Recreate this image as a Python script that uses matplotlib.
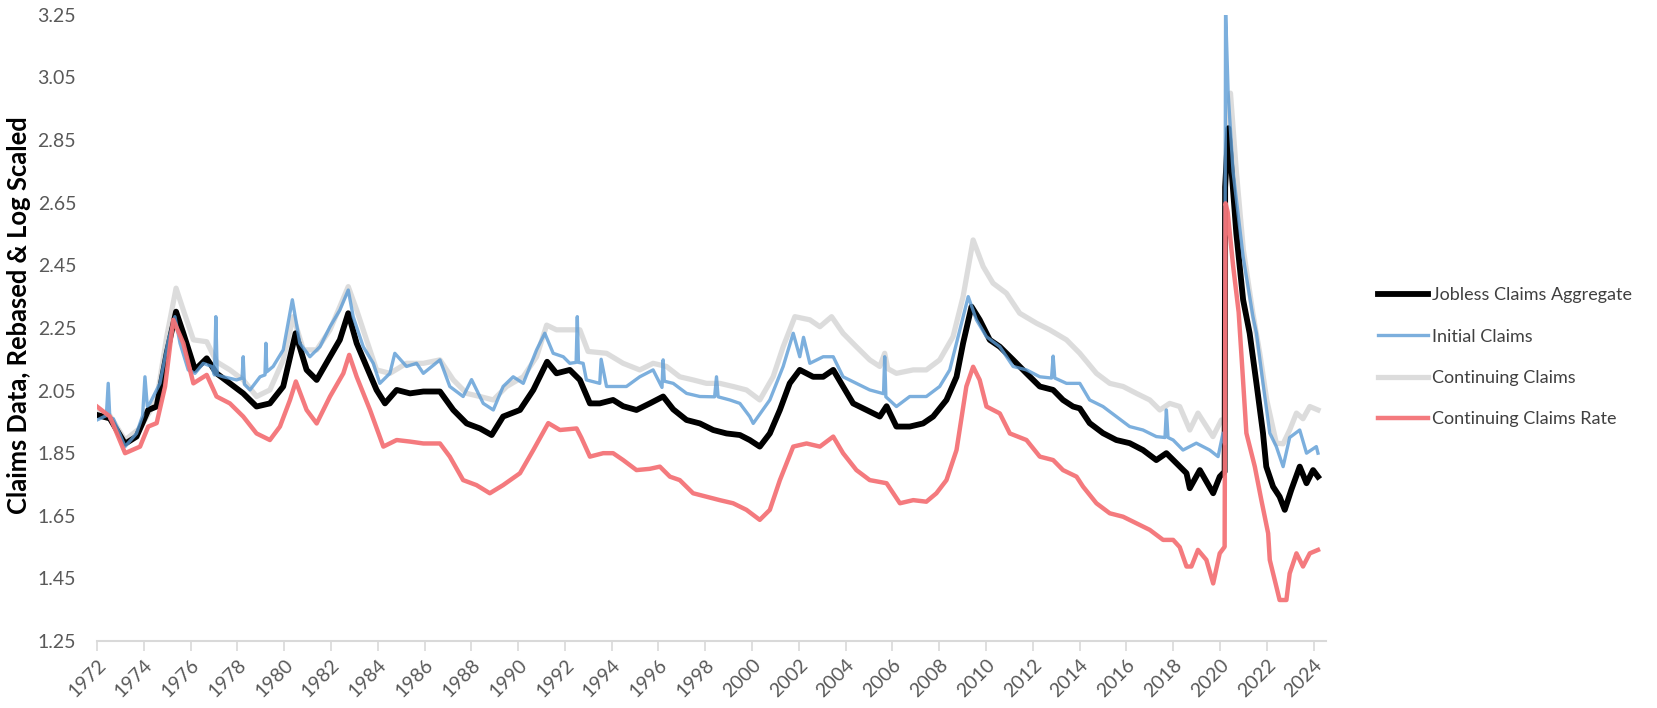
import numpy as np
import matplotlib
matplotlib.use("Agg")
import matplotlib.pyplot as plt

plt.rcParams['font.family'] = ['Lato', 'DejaVu Sans']

# values (decimal year, rebased log value)
agg_years = [1972.0, 1972.55, 1973.2, 1973.69, 1974.19, 1974.55, 1974.98, 1975.38, 1975.69, 1976.19,
             1976.69, 1977.11, 1977.68, 1978.25, 1978.82, 1979.39, 1979.96, 1980.49, 1980.96, 1981.39,
             1981.96, 1982.38, 1982.74, 1983.10, 1983.52, 1983.95, 1984.31, 1984.81, 1985.38, 1985.95,
             1986.66, 1987.23, 1987.80, 1988.37, 1988.87, 1989.36, 1990.08, 1990.65, 1991.24, 1991.64,
             1992.21, 1992.64, 1993.07, 1993.49, 1994.06, 1994.49, 1995.06, 1995.63, 1996.20, 1996.63,
             1997.20, 1997.77, 1998.34, 1998.91, 1999.48, 1999.90, 2000.33, 2000.76, 2001.19, 2001.61,
             2002.04, 2002.61, 2003.04, 2003.47, 2003.89, 2004.32, 2004.89, 2005.46, 2005.75, 2006.17,
             2006.74, 2007.31, 2007.74, 2008.31, 2008.74, 2009.02, 2009.38, 2009.73, 2010.16, 2010.59,
             2011.16, 2011.73, 2012.30, 2012.87, 2013.29, 2013.72, 2014.01, 2014.43, 2015.00, 2015.57,
             2016.14, 2016.71, 2017.28, 2017.71, 2018.14, 2018.57, 2018.71, 2019.14, 2019.71, 2019.99,
             2020.20, 2020.22, 2020.36, 2020.70, 2020.99, 2021.27, 2021.56, 2021.84, 2021.98, 2022.27,
             2022.55, 2022.77, 2023.05, 2023.41, 2023.70, 2023.98, 2024.19]
agg_vals = [1.972, 1.961, 1.880, 1.903, 1.988, 1.999, 2.169, 2.302, 2.233, 2.116,
            2.153, 2.105, 2.073, 2.041, 1.999, 2.009, 2.063, 2.233, 2.116, 2.084,
            2.158, 2.212, 2.297, 2.201, 2.127, 2.052, 2.009, 2.052, 2.041, 2.047,
            2.047, 1.988, 1.945, 1.929, 1.908, 1.967, 1.988, 2.052, 2.142, 2.105,
            2.116, 2.084, 2.009, 2.009, 2.020, 2.000, 1.988, 2.009, 2.031, 1.990,
            1.956, 1.945, 1.924, 1.913, 1.908, 1.892, 1.871, 1.913, 1.988, 2.073,
            2.116, 2.094, 2.094, 2.116, 2.063, 2.009, 1.988, 1.967, 2.000, 1.935,
            1.935, 1.945, 1.967, 2.020, 2.094, 2.201, 2.318, 2.276, 2.212, 2.190,
            2.148, 2.105, 2.063, 2.052, 2.020, 1.999, 1.993, 1.946, 1.914, 1.892,
            1.882, 1.860, 1.828, 1.850, 1.818, 1.786, 1.738, 1.796, 1.722, 1.775,
            1.791, 2.700, 2.888, 2.552, 2.340, 2.233, 2.073, 1.914, 1.807, 1.743,
            1.711, 1.669, 1.733, 1.807, 1.754, 1.796, 1.775]

init_years = [1972.0, 1972.40, 1972.48, 1972.55, 1972.70, 1973.20, 1973.69, 1973.95, 1974.05, 1974.15,
              1974.26, 1974.69, 1975.05, 1975.33, 1975.55, 1975.90, 1976.19, 1976.54, 1976.90, 1977.02,
              1977.08, 1977.14, 1977.40, 1977.97, 1978.20, 1978.25, 1978.30, 1978.54, 1978.97, 1979.18,
              1979.22, 1979.26, 1979.53, 1979.96, 1980.35, 1980.67, 1981.10, 1981.53, 1981.96, 1982.38,
              1982.74, 1982.95, 1983.38, 1983.81, 1984.09, 1984.52, 1984.73, 1985.23, 1985.66, 1985.95,
              1986.66, 1987.08, 1987.65, 1988.01, 1988.51, 1988.94, 1989.36, 1989.79, 1990.22, 1990.79,
              1991.14, 1991.50, 1991.93, 1992.21, 1992.48, 1992.53, 1992.58, 1992.78, 1992.92, 1993.49,
              1993.55, 1993.78, 1994.06, 1994.63, 1995.20, 1995.77, 1996.15, 1996.20, 1996.25, 1996.63,
              1997.20, 1997.77, 1998.40, 1998.48, 1998.55, 1999.05, 1999.48, 1999.90, 2000.05, 2000.76,
              2001.33, 2001.76, 2002.04, 2002.20, 2002.47, 2003.04, 2003.47, 2003.89, 2004.46, 2005.03,
              2005.62, 2005.67, 2005.72, 2006.17, 2006.74, 2007.45, 2008.02, 2008.45, 2008.88, 2009.24,
              2009.59, 2010.02, 2010.59, 2011.16, 2011.73, 2012.30, 2012.80, 2012.87, 2012.94, 2013.44,
              2014.01, 2014.43, 2015.00, 2015.57, 2016.14, 2016.71, 2017.28, 2017.65, 2017.71, 2017.78,
              2018.00, 2018.42, 2018.99, 2019.56, 2019.92, 2020.13, 2020.20, 2020.24, 2020.35, 2020.56,
              2020.99, 2021.41, 2021.56, 2021.84, 2022.13, 2022.41, 2022.70, 2022.98, 2023.41, 2023.70,
              2024.12, 2024.19]
init_vals = [1.956, 1.970, 2.073, 1.960, 1.960, 1.871, 1.913, 1.970, 2.094, 2.000,
             2.009, 2.073, 2.212, 2.286, 2.201, 2.116, 2.105, 2.137, 2.127, 2.100,
             2.286, 2.100, 2.094, 2.084, 2.090, 2.158, 2.070, 2.052, 2.094, 2.100,
             2.201, 2.110, 2.127, 2.180, 2.340, 2.201, 2.158, 2.190, 2.254, 2.307,
             2.371, 2.286, 2.190, 2.137, 2.073, 2.105, 2.169, 2.127, 2.137, 2.105,
             2.148, 2.063, 2.031, 2.085, 2.009, 1.988, 2.063, 2.094, 2.073, 2.180,
             2.233, 2.169, 2.158, 2.137, 2.140, 2.286, 2.140, 2.137, 2.084, 2.073,
             2.150, 2.063, 2.063, 2.063, 2.094, 2.116, 2.060, 2.148, 2.080, 2.073,
             2.041, 2.031, 2.030, 2.094, 2.030, 2.020, 2.009, 1.967, 1.945, 2.020,
             2.127, 2.233, 2.158, 2.220, 2.137, 2.158, 2.158, 2.094, 2.073, 2.052,
             2.040, 2.158, 2.030, 1.999, 2.031, 2.031, 2.063, 2.116, 2.244, 2.350,
             2.276, 2.222, 2.190, 2.127, 2.116, 2.094, 2.090, 2.160, 2.090, 2.073,
             2.073, 2.020, 1.999, 1.967, 1.935, 1.924, 1.903, 1.900, 1.988, 1.900,
             1.892, 1.860, 1.882, 1.860, 1.839, 1.914, 1.880, 3.270, 3.000, 2.750,
             2.478, 2.286, 2.233, 2.073, 1.914, 1.871, 1.807, 1.900, 1.924, 1.850,
             1.871, 1.850]

cont_years = [1972.0, 1972.55, 1973.20, 1973.84, 1974.55, 1974.98, 1975.38, 1975.69, 1976.12, 1976.69,
              1977.11, 1977.68, 1978.25, 1978.82, 1979.39, 1979.96, 1980.39, 1980.82, 1981.39, 1981.96,
              1982.38, 1982.74, 1983.10, 1983.52, 1983.95, 1984.52, 1985.23, 1985.95, 1986.66, 1987.23,
              1987.80, 1988.37, 1988.94, 1989.51, 1990.22, 1990.79, 1991.22, 1991.64, 1992.21, 1992.64,
              1992.99, 1993.78, 1994.49, 1995.20, 1995.77, 1996.34, 1996.91, 1997.48, 1998.05, 1998.62,
              1999.19, 1999.76, 2000.33, 2000.90, 2001.33, 2001.83, 2002.47, 2002.90, 2003.40, 2003.89,
              2004.46, 2005.03, 2005.46, 2005.67, 2005.80, 2006.17, 2006.89, 2007.45, 2008.02, 2008.59,
              2009.02, 2009.45, 2009.88, 2010.30, 2010.87, 2011.44, 2012.16, 2012.72, 2013.44, 2014.01,
              2014.72, 2015.29, 2015.86, 2016.43, 2017.00, 2017.43, 2017.85, 2018.28, 2018.71, 2019.06,
              2019.70, 2020.06, 2020.20, 2020.26, 2020.45, 2020.70, 2021.00, 2021.40, 2021.70, 2022.00,
              2022.41, 2022.70, 2022.98, 2023.27, 2023.55, 2023.84, 2024.19]
cont_vals = [1.980, 1.970, 1.892, 1.930, 2.020, 2.222, 2.377, 2.307, 2.212, 2.206,
             2.142, 2.116, 2.084, 2.031, 2.052, 2.148, 2.286, 2.180, 2.180, 2.244,
             2.318, 2.382, 2.307, 2.212, 2.116, 2.105, 2.137, 2.137, 2.148, 2.084,
             2.041, 2.031, 2.020, 2.063, 2.094, 2.158, 2.259, 2.244, 2.244, 2.244,
             2.175, 2.169, 2.137, 2.116, 2.137, 2.127, 2.094, 2.084, 2.073, 2.073,
             2.063, 2.052, 2.020, 2.094, 2.190, 2.286, 2.276, 2.254, 2.286, 2.233,
             2.190, 2.148, 2.127, 2.169, 2.120, 2.105, 2.116, 2.116, 2.148, 2.222,
             2.350, 2.531, 2.446, 2.393, 2.361, 2.297, 2.265, 2.244, 2.212, 2.169,
             2.105, 2.073, 2.063, 2.041, 2.020, 1.988, 2.009, 1.999, 1.924, 1.978,
             1.903, 1.956, 1.950, 2.800, 3.000, 2.750, 2.500, 2.300, 2.170, 2.020,
             1.882, 1.880, 1.924, 1.978, 1.960, 1.999, 1.988]

rate_years = [1972.0, 1972.55, 1973.20, 1973.84, 1974.19, 1974.55, 1974.91, 1975.26, 1975.69, 1976.12,
              1976.69, 1977.11, 1977.68, 1978.25, 1978.82, 1979.39, 1979.82, 1980.25, 1980.50, 1980.96,
              1981.39, 1981.96, 1982.53, 1982.78, 1983.10, 1983.67, 1984.24, 1984.81, 1985.38, 1985.95,
              1986.66, 1987.08, 1987.65, 1988.22, 1988.79, 1989.36, 1990.08, 1990.65, 1991.29, 1991.79,
              1992.50, 1992.70, 1993.07, 1993.64, 1994.06, 1994.49, 1995.06, 1995.63, 1996.06, 1996.49,
              1996.91, 1997.48, 1998.05, 1998.62, 1999.19, 1999.76, 2000.33, 2000.76, 2001.19, 2001.76,
              2002.33, 2002.90, 2003.47, 2003.89, 2004.46, 2005.03, 2005.75, 2006.32, 2006.89, 2007.45,
              2007.88, 2008.31, 2008.74, 2009.16, 2009.45, 2009.73, 2010.02, 2010.59, 2011.02, 2011.73,
              2012.30, 2012.87, 2013.29, 2013.87, 2014.15, 2014.72, 2015.29, 2015.86, 2016.43, 2017.00,
              2017.57, 2018.00, 2018.28, 2018.57, 2018.78, 2019.06, 2019.42, 2019.71, 2019.99, 2020.20,
              2020.24, 2020.33, 2020.56, 2020.80, 2020.95, 2021.13, 2021.49, 2021.77, 2022.06, 2022.13,
              2022.41, 2022.55, 2022.84, 2022.98, 2023.27, 2023.55, 2023.84, 2024.19]
rate_vals = [1.999, 1.967, 1.850, 1.871, 1.935, 1.946, 2.063, 2.276, 2.201, 2.073,
             2.100, 2.031, 2.009, 1.967, 1.913, 1.892, 1.935, 2.020, 2.079, 1.988,
             1.945, 2.031, 2.105, 2.164, 2.094, 1.988, 1.871, 1.892, 1.887, 1.881,
             1.881, 1.839, 1.764, 1.748, 1.722, 1.748, 1.786, 1.860, 1.946, 1.924,
             1.929, 1.900, 1.839, 1.850, 1.850, 1.828, 1.796, 1.800, 1.807, 1.775,
             1.764, 1.722, 1.711, 1.700, 1.690, 1.669, 1.637, 1.669, 1.764, 1.871,
             1.881, 1.871, 1.903, 1.850, 1.796, 1.764, 1.754, 1.690, 1.700, 1.695,
             1.722, 1.764, 1.860, 2.063, 2.126, 2.084, 1.999, 1.977, 1.913, 1.892,
             1.839, 1.828, 1.796, 1.775, 1.743, 1.690, 1.658, 1.647, 1.626, 1.605,
             1.573, 1.573, 1.550, 1.488, 1.488, 1.541, 1.509, 1.434, 1.530, 1.551,
             2.648, 2.620, 2.450, 2.300, 2.126, 1.914, 1.807, 1.700, 1.594, 1.509,
             1.424, 1.381, 1.381, 1.466, 1.530, 1.488, 1.530, 1.541]

year_ticks = list(range(1972, 2025, 2))
value_ticks = [1.25, 1.45, 1.65, 1.85, 2.05, 2.25, 2.45, 2.65, 2.85, 3.05, 3.25]

fig = plt.figure(figsize=(16.58, 7.08), dpi=100)
ax = fig.add_axes([0.0585, 0.0946, 0.7415, 0.8844])

ax.plot(agg_years, agg_vals, color='black', lw=4.2, label='Jobless Claims Aggregate', zorder=2)
ax.plot(init_years, init_vals, color='#5b9bd5', lw=2.4, alpha=0.8, label='Initial Claims', zorder=3)
ax.plot(cont_years, cont_vals, color='#d9d9d9', lw=3.8, alpha=0.9, label='Continuing Claims', zorder=1)
ax.plot(rate_years, rate_vals, color='#f47377', lw=3.2, alpha=0.95, label='Continuing Claims Rate', zorder=4)

ax.set_xlim(1972, 2024.55)
ax.set_ylim(1.25, 3.25)
ax.set_xticks(year_ticks)
ax.set_xticklabels([str(y) for y in year_ticks], rotation=45, ha='right', rotation_mode='anchor')
ax.set_yticks(value_ticks)
ax.set_yticklabels(['%.2f' % v for v in value_ticks])

for s in ['top', 'right', 'left']:
    ax.spines[s].set_visible(False)
ax.spines['bottom'].set_color('#d9d9d9')
ax.spines['bottom'].set_linewidth(1.5)
ax.tick_params(axis='x', colors='#d9d9d9', length=7, width=1.2, labelcolor='#595959',
               labelsize=14, pad=4)
ax.tick_params(axis='y', length=0, labelcolor='#595959', labelsize=14, pad=15)

ax.set_ylabel('Claims Data, Rebased & Log Scaled', fontsize=18.4, fontweight='bold',
              color='black')
ax.yaxis.set_label_coords(-0.054, 0.521)

fig.legend(loc='upper left', bbox_to_anchor=(0.8215, 0.617), frameon=False,
           fontsize=13, handlelength=2.78, handletextpad=0.17, labelspacing=1.4,
           labelcolor='#404040')

fig.savefig('out.png', dpi=100)
